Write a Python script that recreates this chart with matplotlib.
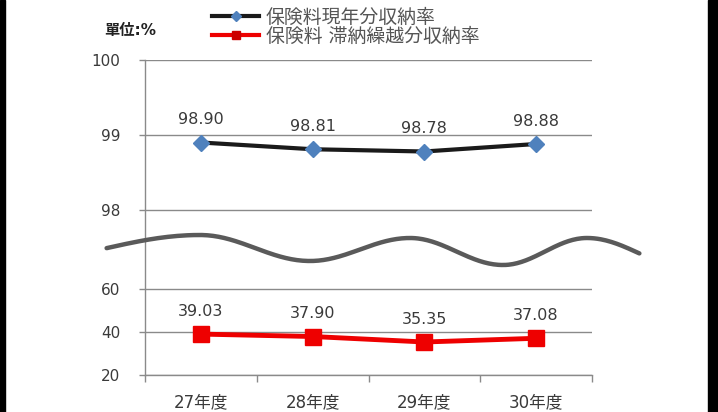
import numpy as np
import matplotlib
matplotlib.use("Agg")
import matplotlib.pyplot as plt
from matplotlib.patches import Rectangle
from matplotlib.lines import Line2D

plt.rcParams['font.family'] = ['DejaVu Sans', 'Noto Sans CJK JP']

categories = ['27年度', '28年度', '29年度', '30年度']
current_rate = [98.90, 98.81, 98.78, 98.88]
arrears_rate = [39.03, 37.90, 35.35, 37.08]
series_names = ['保険料現年分収納率', '保険料 滞納繰越分収納率']
unit_label = '單位:%'
upper_ticks = [98, 99, 100]
lower_ticks = [20, 40, 60]

W, H = 718, 412
fig = plt.figure(figsize=(W / 100, H / 100), dpi=100)
fig.patch.set_facecolor('white')

def fx(px):
    return px / W

def fy(py):
    return 1 - py / H

left, right = 145, 592
top, mid, bottom = 60, 240, 375
ax_u = fig.add_axes([fx(left), fy(mid), fx(right - left), (mid - top) / H])
ax_l = fig.add_axes([fx(left), fy(bottom), fx(right - left), (bottom - mid) / H])

grid_c = '#8a8a8a'
txt_c = '#3a3a3a'
x = np.arange(len(categories))

for ax in (ax_u, ax_l):
    ax.set_xlim(-0.5, len(categories) - 0.5)
    for s in ('top', 'right'):
        ax.spines[s].set_visible(False)
    ax.spines['left'].set_color(grid_c)
    ax.spines['left'].set_linewidth(1.0)
    ax.set_axisbelow(True)
    ax.yaxis.grid(True, color=grid_c, linewidth=1.0)
    ax.tick_params(axis='y', length=4, width=1, color=grid_c, pad=14,
                   labelsize=11, labelcolor=txt_c)
    ax.set_facecolor('none')

# Upper axes
ax_u.set_ylim(97.6, 100)
ax_u.set_yticks(upper_ticks)
ax_u.set_yticklabels([str(t) for t in upper_ticks])
ax_u.spines['bottom'].set_visible(False)
ax_u.set_xticks([])
ax_u.plot(x, current_rate, color='#1a1a1a', linewidth=3, marker='D',
          markersize=8, markerfacecolor='#4f81bd', markeredgecolor='#4f81bd',
          zorder=3)
for xi, v in zip(x, current_rate):
    ax_u.annotate(f'{v:.2f}', (xi, v), xytext=(0, 11), textcoords='offset points',
                  ha='center', va='bottom', fontsize=11.5, color=txt_c)

# Lower axes
ax_l.set_ylim(20, 82.8)
ax_l.set_yticks(lower_ticks)
ax_l.set_yticklabels([str(t) for t in lower_ticks])
ax_l.spines['bottom'].set_color(grid_c)
ax_l.spines['bottom'].set_linewidth(1.0)
ax_l.set_xticks(x)
ax_l.set_xticklabels(categories)
ax_l.set_xticks(np.arange(-0.5, len(categories)), minor=True)
ax_l.tick_params(axis='x', which='major', length=0, pad=13, labelsize=12,
                 labelcolor=txt_c)
ax_l.tick_params(axis='x', which='minor', length=5, width=1, color=grid_c)
ax_l.plot(x, arrears_rate, color='#ee0000', linewidth=3.5, marker='s',
          markersize=11, markerfacecolor='#ee0000', markeredgecolor='#ee0000',
          zorder=3)
for xi, v in zip(x, arrears_rate):
    ax_l.annotate(f'{v:.2f}', (xi, v), xytext=(0, 11), textcoords='offset points',
                  ha='center', va='bottom', fontsize=11.5, color=txt_c)

# Break wave (decorative)
ext_x = [10, 200, 310, 410, 503, 587, 690]
ext_y = [262, 235, 261, 238, 265, 238, 268]
wx, wy = [], []
for i in range(len(ext_x) - 1):
    t = np.linspace(0, 1, 60)
    xs = ext_x[i] + (ext_x[i + 1] - ext_x[i]) * t
    ys = ext_y[i] + (ext_y[i + 1] - ext_y[i]) * (1 - np.cos(np.pi * t)) / 2
    keep = (xs >= 105) & (xs <= 640)
    wx.extend(xs[keep])
    wy.extend(ys[keep])
fig.add_artist(Line2D([fx(v) for v in wx], [fy(v) for v in wy],
                      color='#5a5a5a', linewidth=3.2, solid_capstyle='round',
                      transform=fig.transFigure, zorder=5))

# Legend
h1 = Line2D([], [], color='#1a1a1a', linewidth=3, marker='D', markersize=5,
            markerfacecolor='#4f81bd', markeredgecolor='#4f81bd')
h2 = Line2D([], [], color='#ee0000', linewidth=3, marker='s', markersize=6,
            markerfacecolor='#cc0000', markeredgecolor='#cc0000')
fig.legend([h1, h2], series_names, loc='upper left',
           bbox_to_anchor=(fx(212), fy(8)), frameon=False, fontsize=13.6,
           handlelength=2.5, handletextpad=0.35, labelspacing=0.0,
           borderaxespad=0, borderpad=0, labelcolor='#555555')

fig.text(fx(104), fy(30), unit_label, ha='left', va='center', fontsize=11,
         fontweight='bold', color='#222222')

# Black side borders
fig.add_artist(Rectangle((0, 0), fx(5), 1, transform=fig.transFigure,
                         color='black', zorder=10))
fig.add_artist(Rectangle((fx(708), 0), fx(10), 1, transform=fig.transFigure,
                         color='black', zorder=10))

fig.savefig('out.png', dpi=100)
